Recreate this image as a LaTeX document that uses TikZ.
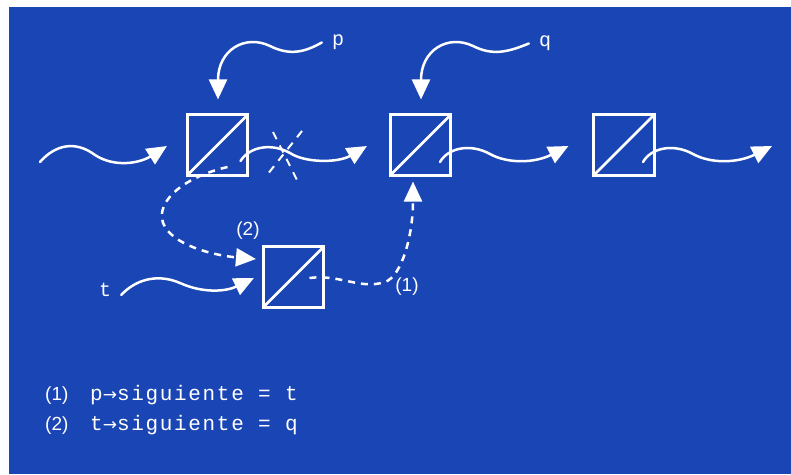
\documentclass[tikz,border=0pt]{standalone}
\usepackage{fontspec}
\setmainfont{Liberation Sans}
\newfontfamily\codefont[LetterSpace=8]{Liberation Mono}
\newfontfamily\lblfont{Liberation Mono}
\newfontfamily\arrfont{DejaVu Sans}
\usetikzlibrary{arrows.meta}
\definecolor{bg}{RGB}{26,69,180}
\newcommand{\ptrarrow}{{\arrfont\fontsize{17}{20}\selectfont→}}
\begin{document}
\begin{tikzpicture}[x=1pt,y=-1pt,
  cell/.style={draw=white, line width=2.6pt, minimum size=60.5pt, inner sep=0pt,
    path picture={\draw[white,line width=2.6pt] (path picture bounding box.south west) -- (path picture bounding box.north east);}},
  ptr/.style={white, line width=2.5pt, line cap=round, -{Triangle[length=20pt,width=18pt]}},
  dptr/.style={ptr, line cap=butt, dash pattern=on 7pt off 6pt},
  cross/.style={white, line width=2pt, dash pattern=on 8pt off 7pt},
  ptrlbl/.style={text=white, inner sep=0pt, font=\lblfont\fontsize{20}{24}\selectfont},
  numlbl/.style={text=white, inner sep=0pt, font=\fontsize{19}{23}\selectfont},
  codelbl/.style={text=white, inner sep=0pt, font=\codefont\fontsize{21}{25}\selectfont}]
\useasboundingbox (0,0) rectangle (791,474);
\fill[white] (0,0) rectangle (791,474);
\fill[bg] (9,7) rectangle (791,474);

% list cells
\node[cell] (b1) at (217.5,145) {};
\node[cell] (b2) at (420.5,145) {};
\node[cell] (b3) at (624,145) {};
\node[cell] (bt) at (293.5,277) {};

% labels
\node[ptrlbl] (lp) at (338,42.5) {p};
\node[ptrlbl] (lq) at (545,43.5) {q};
\node[ptrlbl] (lt) at (105,290) {t};
\node[numlbl] (l2) at (248,231) {(2)};
\node[numlbl] (l1) at (407,287) {(1)};

% free ends
\coordinate (in0) at (40,162);
\coordinate (end3) at (772,146);

% incoming list arrow
\draw[ptr] (in0) .. controls (55,145) and (75,140) .. (95,155)
  .. controls (115,168) and (140,163) .. ([shift={(-19,1)}]b1.west);
% next pointers
\draw[ptr] ([shift={(23,16)}]b1.center) .. controls (250,146) and (272,143) .. (290,153)
  .. controls (305,163) and (338,163) .. ([shift={(-22,1)}]b2.west);
\draw[ptr] ([shift={(19.5,17)}]b2.center) .. controls (448,148) and (470,143) .. (490,154)
  .. controls (508,164) and (535,163) .. ([shift={(-24,1)}]b3.west);
\draw[ptr] ([shift={(19,17)}]b3.center) .. controls (651,148) and (673,143) .. (693,154)
  .. controls (711,164) and (738,163) .. (end3);

% p and q pointers
\draw[ptr] ([xshift=-10pt]lp.west) .. controls (305,52) and (290,56) .. (270,46)
  .. controls (245,34) and (218,50) .. ([shift={(0.5,-14)}]b1.north);
\draw[ptr] ([xshift=-10pt]lq.west) .. controls (508,52) and (493,56) .. (473,46)
  .. controls (448,34) and (421,50) .. ([shift={(0.5,-14)}]b2.north);

% t pointer
\draw[ptr] ([shift={(10,5)}]lt.east) .. controls (135,280) and (157,273) .. (180,283)
  .. controls (202,293) and (225,292) .. ([shift={(-8,1)}]bt.west);

% broken link
\coordinate (c1) at (273,132); \coordinate (c2) at (298,182);
\coordinate (c3) at (302,131); \coordinate (c4) at (267,175);
\draw[cross] (c1) -- (c2);
\draw[cross] (c3) -- (c4);

% (2) t->siguiente = q
\draw[dptr] ([shift={(10,22)}]b1.center) .. controls (180,178) and (152,205) .. (165,227)
  .. controls (178,248) and (220,256) .. ([shift={(-6,-18)}]bt.west);
% (1) p->siguiente = t
\draw[dptr] ([shift={(16,1)}]bt.center) .. controls (340,274) and (360,290) .. (385,282)
  .. controls (402,276) and (413,235) .. ([shift={(-7.5,5)}]b2.south);

% legend
\node[numlbl, anchor=base west] (n1) at (45,400) {(1)};
\node[codelbl, anchor=base west] (c1t) at (90,400) {p\ptrarrow siguiente = t};
\node[numlbl, anchor=base west] (n2) at (45,430) {(2)};
\node[codelbl, anchor=base west] (c2t) at (90,430) {t\ptrarrow siguiente = q};
\end{tikzpicture}
\end{document}
